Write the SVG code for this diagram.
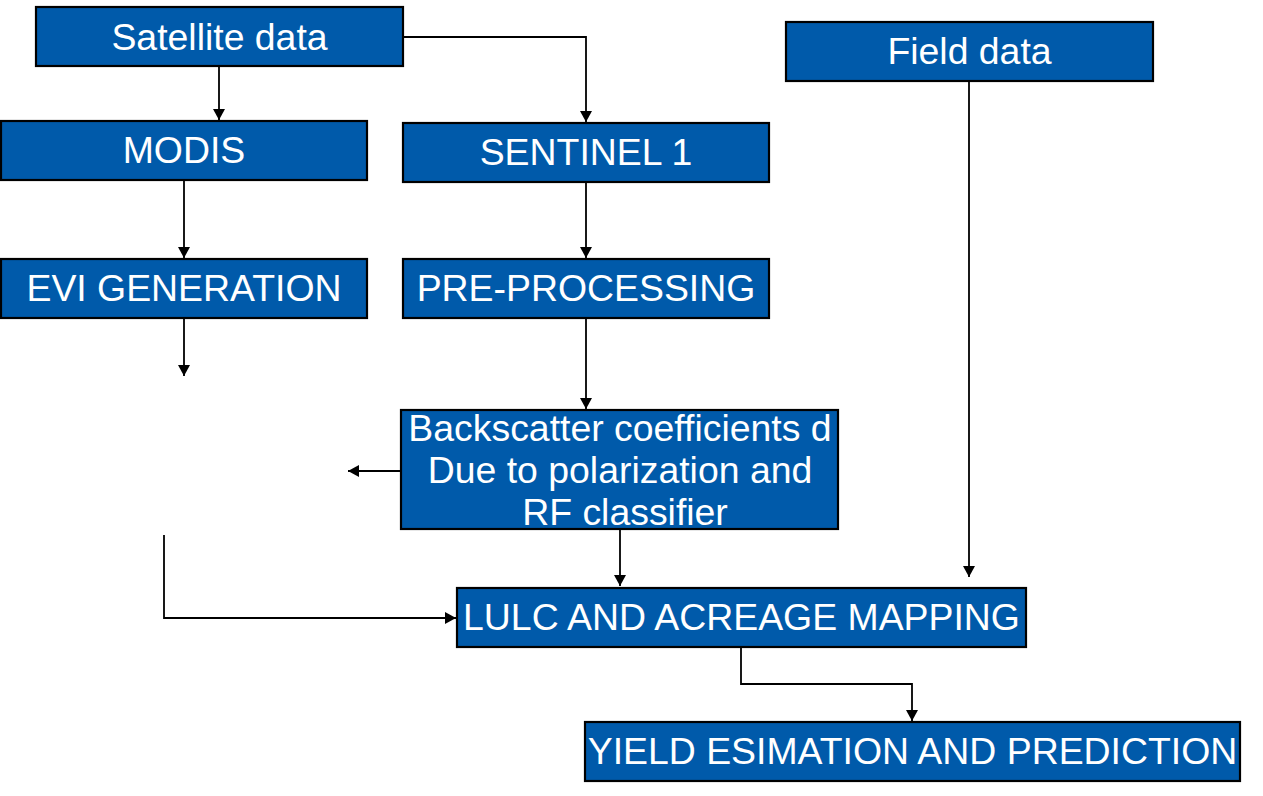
<svg xmlns="http://www.w3.org/2000/svg" width="1263" height="796" viewBox="0 0 1263 796">
<style>
.box{fill:#005AAA;stroke:#000;stroke-width:2.2}
.t{font-family:"Liberation Sans",Arial,sans-serif;font-size:37.4px;fill:#fff;text-anchor:middle}
.c{fill:none;stroke:#000;stroke-width:1.8}
</style>
<defs>
<marker id="ah" markerUnits="userSpaceOnUse" markerWidth="12" markerHeight="12" refX="11" refY="6" orient="auto">
<path d="M0,0 L11,6 L0,12 z" fill="#000"/>
</marker>
</defs>
<rect width="1263" height="796" fill="#fff"/>
<g id="connectors">
<path class="c" d="M219,66 V120" marker-end="url(#ah)"/>
<path class="c" d="M403,37 H586 V122" marker-end="url(#ah)"/>
<path class="c" d="M184,180 V258" marker-end="url(#ah)"/>
<path class="c" d="M586,182 V258" marker-end="url(#ah)"/>
<path class="c" d="M184,318 V376" marker-end="url(#ah)"/>
<path class="c" d="M586,318 V409" marker-end="url(#ah)"/>
<path class="c" d="M401,471 H348" marker-end="url(#ah)"/>
<path class="c" d="M164,535 V618 H456" marker-end="url(#ah)"/>
<path class="c" d="M620,529 V586" marker-end="url(#ah)"/>
<path class="c" d="M969,81 V577" marker-end="url(#ah)"/>
<path class="c" d="M741,647 V684 H912 V721" marker-end="url(#ah)"/>
</g>
<g id="satellite">
<rect class="box" x="36" y="7" width="367" height="59"/>
<text class="t" x="219.5" y="50">Satellite data</text>
</g>
<g id="field">
<rect class="box" x="786" y="22" width="367" height="59"/>
<text class="t" x="969.5" y="64">Field data</text>
</g>
<g id="modis">
<rect class="box" x="1" y="121" width="366" height="59"/>
<text class="t" x="184" y="163">MODIS</text>
</g>
<g id="sentinel">
<rect class="box" x="403" y="123" width="366" height="59"/>
<text class="t" x="586" y="165">SENTINEL 1</text>
</g>
<g id="evi">
<rect class="box" x="1" y="259" width="366" height="59"/>
<text class="t" x="184" y="301">EVI GENERATION</text>
</g>
<g id="preprocessing">
<rect class="box" x="403" y="259" width="366" height="59"/>
<text class="t" x="586" y="301">PRE-PROCESSING</text>
</g>
<g id="backscatter">
<rect class="box" x="401" y="410" width="437" height="119"/>
<text class="t" x="620" y="441">Backscatter coefficients d</text>
<text class="t" x="620" y="483">Due to polarization and</text>
<text class="t" x="625" y="525">RF classifier</text>
</g>
<g id="lulc">
<rect class="box" x="457" y="588" width="569" height="59"/>
<text class="t" x="741.5" y="630">LULC AND ACREAGE MAPPING</text>
</g>
<g id="yield">
<rect class="box" x="585" y="722" width="655" height="59"/>
<text class="t" x="912.5" y="764">YIELD ESIMATION AND PREDICTION</text>
</g>
</svg>
